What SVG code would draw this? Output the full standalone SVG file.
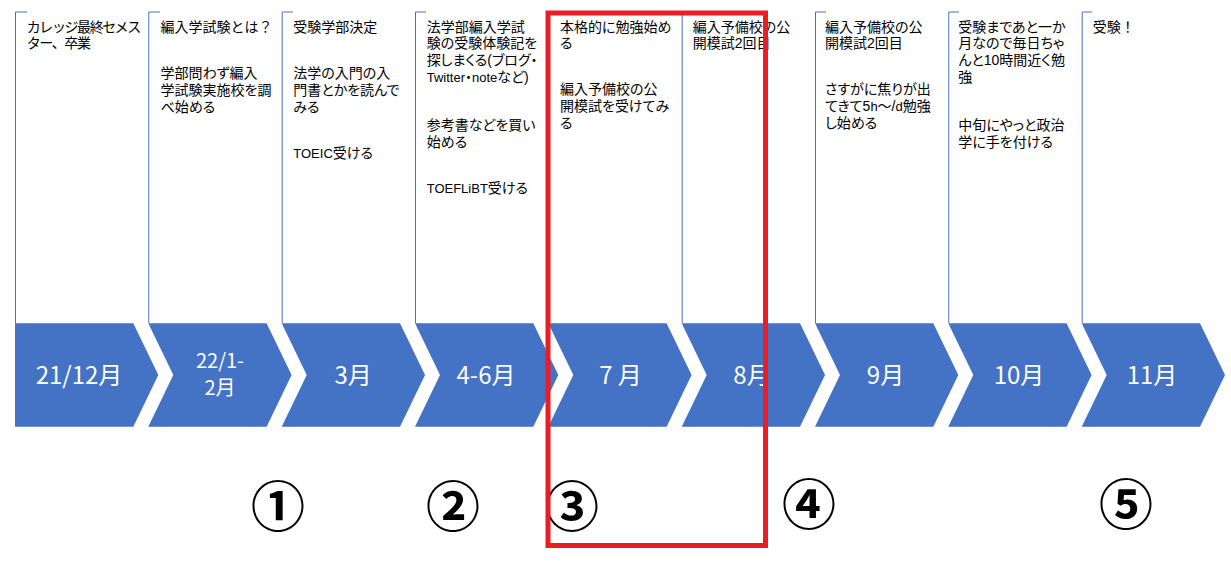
<svg xmlns="http://www.w3.org/2000/svg" width="1231" height="562" viewBox="0 0 1231 562">
<style>
.br{fill:none;stroke:#4472C4;stroke-width:1}
.t{font-family:"Liberation Sans","Noto Sans CJK JP",sans-serif;font-size:14px;fill:#000;font-feature-settings:"palt"}
.n{font-feature-settings:normal}
.l{font-size:13px}
.cv{fill:#4472C4}
.cl{font-family:"Noto Sans CJK JP","Noto Sans",sans-serif;font-size:24px;fill:#fff;text-anchor:middle}
.cn{font-family:"Noto Sans CJK JP",sans-serif;font-size:54px;font-weight:700;fill:#000;text-anchor:middle}
.hl{fill:none;stroke:#ED1C24;stroke-width:5}
</style>
<rect width="1231" height="562" fill="#fff"/>
<g id="col1">
<path class="br" d="M27,12H15.5V323"/>
<text class="t n" x="26.7" y="31.7" letter-spacing="-1.4">カレッジ最終セメス<tspan x="26.7" dy="16.67">ター、卒業</tspan></text>
</g>
<g id="col2">
<path class="br" d="M160,12H148.8V323"/>
<text class="t n" x="160.5" y="31.7">編入学試験とは？</text>
<text class="t" x="160.5" y="78.3">学部問わず編入<tspan x="160.5" dy="16.67">学試験実施校を調</tspan><tspan x="160.5" dy="16.67">べ始める</tspan></text>
</g>
<g id="col3">
<path class="br" d="M293,12H282.2V323"/>
<text class="t" x="293.3" y="31.7">受験学部決定</text>
<text class="t" x="293.3" y="78.3">法学の入門の入<tspan x="293.3" dy="16.67">門書とかを読んで</tspan><tspan x="293.3" dy="16.67">みる</tspan></text>
<text class="t" x="293.3" y="158.3"><tspan class="l">TOEIC</tspan>受ける</text>
</g>
<g id="col4">
<path class="br" d="M426,12H415.5V323"/>
<text class="t" x="426.7" y="31.7">法学部編入学試<tspan x="426.7" dy="16.67">験の受験体験記を</tspan><tspan x="426.7" dy="16.67">探しまくる(ブログ・</tspan><tspan x="426.7" dy="16.67"><tspan class="l">Twitter</tspan>・<tspan class="l">note</tspan>など)</tspan></text>
<text class="t" x="426.7" y="130">参考書などを買い<tspan x="426.7" dy="16.67">始める</tspan></text>
<text class="t" x="426.7" y="193"><tspan class="l">TOEFLiBT</tspan>受ける</text>
</g>
<g id="col5">
<path class="br" d="M560,12H548.8V323"/>
<text class="t" x="560" y="31.7">本格的に勉強始め<tspan x="560" dy="16.67">る</tspan></text>
<text class="t" x="560" y="94.3">編入予備校の公<tspan x="560" dy="16.67">開模試を受けてみ</tspan><tspan x="560" dy="16.67">る</tspan></text>
</g>
<g id="col6">
<path class="br" d="M693,12H682.2V323"/>
<text class="t" x="692.7" y="31.7">編入予備校の公<tspan x="692.7" dy="16.67">開模試2回目</tspan></text>
</g>
<g id="col7">
<path class="br" d="M826,12H815.5V323"/>
<text class="t" x="825" y="31.7">編入予備校の公<tspan x="825" dy="16.67">開模試2回目</tspan></text>
<text class="t" x="825" y="94.3">さすがに焦りが出<tspan x="825" dy="16.67">てきて5<tspan class="l">h</tspan>～/<tspan class="l">d</tspan>勉強</tspan><tspan x="825" dy="16.67">し始める</tspan></text>
</g>
<g id="col8">
<path class="br" d="M959,12H948.8V323"/>
<text class="t" x="958.3" y="31.7">受験まであと一か<tspan x="958.3" dy="16.67">月なので毎日ちゃ</tspan><tspan x="958.3" dy="16.67">んと10時間近く勉</tspan><tspan x="958.3" dy="16.67">強</tspan></text>
<text class="t" x="958.3" y="130">中旬にやっと政治<tspan x="958.3" dy="16.67">学に手を付ける</tspan></text>
</g>
<g id="col9">
<path class="br" d="M1092,12H1082.2V323"/>
<text class="t n" x="1092.7" y="31.7">受験！</text>
</g>
<g id="chev1"><polygon class="cv" points="15,323.3 133.3,323.3 158.3,375 133.3,426.7 15,426.7"/><text class="cl" x="79" y="384">21/12月</text></g>
<g id="chev2"><polygon class="cv" points="148.3,323.3 266.6,323.3 291.6,375 266.6,426.7 148.3,426.7 173.3,375"/><text class="cl" x="220" y="367.5" style="font-size:20px">22/1-<tspan x="220" dy="27.5">2月</tspan></text></g>
<g id="chev3"><polygon class="cv" points="281.7,323.3 400,323.3 425,375 400,426.7 281.7,426.7 306.7,375"/><text class="cl" x="353.2" y="384">3月</text></g>
<g id="chev4"><polygon class="cv" points="415,323.3 533.3,323.3 558.3,375 533.3,426.7 415,426.7 440,375"/><text class="cl" x="486" y="384">4-6月</text></g>
<g id="chev5"><polygon class="cv" points="548.3,323.3 666.6,323.3 691.6,375 666.6,426.7 548.3,426.7 573.3,375"/><text class="cl" x="620.5" y="384">7 月</text></g>
<g id="chev6"><polygon class="cv" points="681.7,323.3 800,323.3 825,375 800,426.7 681.7,426.7 706.7,375"/><text class="cl" x="752" y="384">8月</text></g>
<g id="chev7"><polygon class="cv" points="815,323.3 933.3,323.3 958.3,375 933.3,426.7 815,426.7 840,375"/><text class="cl" x="885.5" y="384">9月</text></g>
<g id="chev8"><polygon class="cv" points="948.3,323.3 1066.6,323.3 1091.6,375 1066.6,426.7 948.3,426.7 973.3,375"/><text class="cl" x="1019" y="384">10月</text></g>
<g id="chev9"><polygon class="cv" points="1081.7,323.3 1200,323.3 1225,375 1200,426.7 1081.7,426.7 1106.7,375"/><text class="cl" x="1152" y="384">11月</text></g>
<g id="connectors"></g>
<g id="markers">
<text class="cn" x="278" y="527">①</text>
<text class="cn" x="453" y="527">②</text>
<text class="cn" x="572" y="527">③</text>
<text class="cn" x="809" y="524.5">④</text>
<text class="cn" x="1126" y="525">⑤</text>
</g>
<g id="highlight"><rect class="hl" x="548" y="13" width="217.5" height="532.5"/></g>
</svg>
